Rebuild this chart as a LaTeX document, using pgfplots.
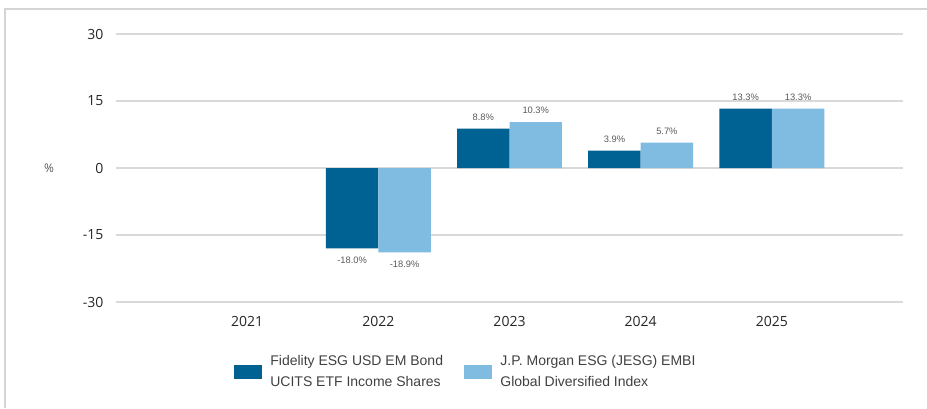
\documentclass[border=0pt]{standalone}
\usepackage{pgfplots}
\pgfplotsset{compat=1.18}
\usepackage{fontspec}
\setmainfont{Liberation Sans}
\newfontfamily\tickfont{Open Sans}
\definecolor{dark}{HTML}{006293}
\definecolor{light}{HTML}{80BBE1}
\definecolor{gridgray}{HTML}{D9D9D9}
\definecolor{framegray}{HTML}{D4D4D4}
\definecolor{ticktext}{HTML}{262626}
\definecolor{labgray}{HTML}{595959}
\definecolor{legtext}{HTML}{404040}
\begin{document}
\begin{tikzpicture}
\path[use as bounding box] (0,0) rectangle (695.25pt,306pt);
% frame (left and top edges)
\draw[framegray, line width=1.6pt] (3.75pt,0) -- (3.75pt,299.25pt) -- (695.25pt,299.25pt);
\node[text=labgray, font=\tickfont\fontsize{9}{10}\selectfont] at (36.75pt,180pt) {\%};
\begin{axis}[
  at={(87pt,79.5pt)}, anchor=south west,
  scale only axis, width=590.25pt, height=201pt,
  xmin=-1, xmax=5, ymin=-30, ymax=30,
  ybar=0pt, bar width=0.4,
  xtick={0,1,2,3,4}, xticklabels={2021,2022,2023,2024,2025},
  ytick={-30,-15,0,15,30},
  /pgf/number format/assume math mode=true,
  axis line style={draw=none},
  major tick length=0pt,
  ymajorgrids, grid style={draw=gridgray, line width=1.5pt},
  yticklabel style={font=\tickfont\fontsize{10.5}{12}\selectfont, text=ticktext, anchor=east, xshift=-6pt},
  xticklabel style={font=\tickfont\fontsize{10.5}{12}\selectfont, text=ticktext, yshift=-7pt},
  nodes near coords={\pgfmathprintnumber[assume math mode=true, fixed, precision=1, fixed zerofill]{\pgfplotspointmeta}\%},
  nodes near coords style={font=\fontsize{7}{8}\selectfont, text=labgray, inner xsep=0pt, inner ysep=6pt},
  legend columns=2,
  legend style={draw=none, fill=none, at={(axis description cs:0.445,-0.261)}, anchor=center,
    font=\fontsize{10.5}{15.5}\selectfont, text=legtext, cells={align=left},
    /tikz/every odd column/.append style={column sep=4pt},
    /tikz/every even column/.append style={column sep=14pt}},
  legend image code/.code={\fill[#1] (0pt,-5pt) rectangle (21pt,5pt);},
]
\addplot[fill=dark, draw=none]
  coordinates {(1,-18.0) (2,8.8) (3,3.9) (4,13.3)};
\addlegendentry{Fidelity ESG USD EM Bond\\UCITS ETF Income Shares}
\addplot[fill=light, draw=none]
  coordinates {(1,-18.9) (2,10.3) (3,5.7) (4,13.3)};
\addlegendentry{J.P. Morgan ESG (JESG) EMBI\\Global Diversified Index}
\end{axis}
\end{tikzpicture}
\end{document}
